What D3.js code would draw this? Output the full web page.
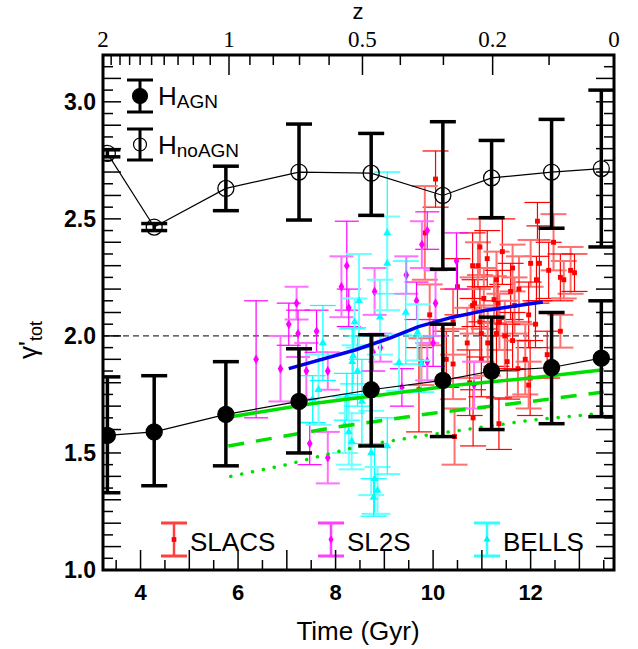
<!DOCTYPE html>
<html>
<head>
<meta charset="utf-8">
<script src="https://cdn.jsdelivr.net/npm/d3@7"></script>
<style>
body { margin: 0; background: #fff; }
text { font-family: "Liberation Sans", Arial, sans-serif; }
</style>
</head>
<body>
<script>
// simulation snapshots (cosmic time in Gyr)
var simTime = [3.32, 4.28, 5.75, 7.25, 8.73, 10.2, 11.2, 12.43, 13.45];

var agnGamma = [1.575, 1.59, 1.665, 1.72, 1.77, 1.81, 1.85, 1.865, 1.905];
var agnLow   = [1.33, 1.36, 1.445, 1.50, 1.53, 1.57, 1.60, 1.625, 1.655];
var agnHigh  = [1.825, 1.83, 1.89, 1.945, 2.005, 2.05, 2.08, 2.10, 2.15];

var noAgnGamma = [2.78, 2.465, 2.63, 2.70, 2.695, 2.60, 2.675, 2.70, 2.715];
var noAgnLow   = [2.765, 2.45, 2.535, 2.495, 2.515, 2.285, 2.505, 2.46, 2.38];
var noAgnHigh  = [2.795, 2.48, 2.725, 2.905, 2.865, 2.915, 2.835, 2.925, 3.05];

var blueLine = [[7.04, 1.86], [8.4, 1.94], [9.1, 1.99], [9.7, 2.04], [10.4, 2.08], [11.1, 2.11], [12.25, 2.145]];
var greenSolid = [[5.85, 1.655], [7.5, 1.71], [9.0, 1.75], [10.5, 1.79], [12.0, 1.82], [13.5, 1.855]];
var greenDashed = [[5.8, 1.53], [8.0, 1.61], [10.0, 1.67], [12.0, 1.72], [13.5, 1.76]];
var greenDotted = [[5.85, 1.40], [7.0, 1.45], [8.5, 1.53], [10.0, 1.58], [12.0, 1.64], [13.5, 1.67]];

// [time, gamma, error]
var slacs = [
  [10.05, 2.67, 0.12], [9.83, 2.44, 0.20], [10.50, 2.21, 0.12], [9.93, 2.09, 0.13],
  [10.27, 1.90, 0.12], [10.41, 1.88, 0.15], [9.71, 1.77, 0.18], [10.44, 1.57, 0.12],
  [10.82, 1.65, 0.12], [10.70, 1.97, 0.15], [10.75, 1.80, 0.14], [10.81, 2.13, 0.12],
  [10.85, 2.14, 0.10], [10.96, 2.38, 0.12], [10.81, 2.30, 0.14], [10.92, 2.30, 0.10],
  [11.11, 2.33, 0.12], [11.04, 2.16, 0.13], [10.96, 2.06, 0.15], [10.99, 2.01, 0.12],
  [10.99, 1.90, 0.16], [10.41, 2.06, 0.14], [12.14, 2.49, 0.08], [12.47, 2.40, 0.12],
  [11.42, 2.36, 0.14], [12.00, 2.31, 0.10], [12.18, 2.31, 0.16], [11.63, 2.29, 0.10],
  [12.37, 2.28, 0.12], [12.82, 2.28, 0.10], [12.61, 2.25, 0.10], [11.30, 2.24, 0.12],
  [12.12, 2.24, 0.10], [11.76, 2.20, 0.14], [11.59, 2.19, 0.12], [11.25, 2.155, 0.10],
  [11.33, 2.14, 0.14], [11.67, 2.13, 0.12], [11.96, 2.09, 0.14], [11.36, 2.06, 0.12],
  [12.10, 2.05, 0.10], [12.61, 2.02, 0.07], [11.30, 2.01, 0.14], [11.47, 2.00, 0.15],
  [11.63, 1.98, 0.12], [11.12, 1.97, 0.14], [12.34, 1.92, 0.10], [11.89, 1.90, 0.15],
  [11.52, 1.89, 0.16], [11.74, 1.86, 0.12], [11.99, 1.82, 0.16], [11.96, 1.79, 0.10],
  [11.35, 1.625, 0.11], [12.68, 2.24, 0.08], [12.90, 2.27, 0.08], [9.76, 1.89, 0.10]
];
var sl2s = [
  [6.37, 1.90, 0.25], [6.87, 1.86, 0.14], [7.04, 2.05, 0.09], [7.20, 2.14, 0.07],
  [7.23, 2.01, 0.10], [7.40, 1.85, 0.12], [7.61, 2.02, 0.09], [7.84, 1.85, 0.08],
  [7.47, 1.54, 0.09], [7.84, 1.48, 0.11], [8.23, 2.30, 0.19], [8.12, 2.21, 0.13],
  [8.27, 2.12, 0.08], [8.80, 2.19, 0.10], [8.77, 1.93, 0.08], [8.92, 1.95, 0.06],
  [9.88, 2.45, 0.08], [9.77, 2.39, 0.10], [10.48, 2.32, 0.12], [9.45, 2.26, 0.08],
  [9.66, 2.15, 0.08], [10.05, 2.14, 0.14], [10.00, 1.97, 0.10], [9.88, 1.89, 0.08],
  [9.36, 1.78, 0.08], [10.84, 1.79, 0.10]
];
var bells = [
  [7.53, 1.73, 0.10], [7.65, 1.77, 0.15], [7.74, 1.97, 0.16], [8.19, 1.62, 0.12],
  [8.23, 1.74, 0.10], [8.27, 1.59, 0.14], [8.34, 1.89, 0.14], [8.39, 2.06, 0.10],
  [8.45, 1.85, 0.15], [8.48, 2.15, 0.20], [8.36, 1.915, 0.12], [8.73, 1.50, 0.18],
  [8.80, 1.39, 0.15], [8.86, 1.34, 0.10], [8.78, 1.31, 0.08], [8.91, 2.08, 0.16],
  [9.06, 2.44, 0.26], [9.06, 2.31, 0.20], [9.06, 1.53, 0.12], [9.30, 1.886, 0.12],
  [9.44, 2.10, 0.22], [9.68, 2.015, 0.12], [9.76, 1.88, 0.12], [8.33, 1.55, 0.12],
  [8.54, 1.72, 0.18]
];

var yTickLabels = ['1.0', '1.5', '2.0', '2.5', '3.0'];
var xTickLabels = [4, 6, 8, 10, 12];
var zMajor = [2, 1, 0.5, 0.2, 0];
var zMinor = [1.9, 1.8, 1.7, 1.6, 1.5, 1.4, 1.3, 1.2, 1.1, 0.9, 0.8, 0.7, 0.6, 0.4, 0.3, 0.1];

var width = 638, height = 649;
var fLeft = 103, fRight = 614, fTop = 55, fBottom = 570;

var x = d3.scaleLinear().domain([3.23, 13.71]).range([fLeft, fRight]);
var y = d3.scaleLinear().domain([1.0, 3.2]).range([fBottom, fTop]);

// age of a flat LCDM universe, used only to place the redshift axis
function age(z) {
    var om = 0.3, ol = 0.7, hubble = 13.97;
    return 2 / (3 * Math.sqrt(ol)) * hubble * Math.asinh(Math.sqrt(ol / om) * Math.pow(1 + z, -1.5));
}
var zx = d3.scaleLinear().domain([age(2), age(0)]).range([fLeft, fRight]);

var svg = d3.select('body').append('svg').attr('width', width).attr('height', height);

svg.append('clipPath').attr('id', 'frame')
    .append('rect').attr('x', fLeft).attr('y', fTop).attr('width', fRight - fLeft).attr('height', fBottom - fTop);

var plot = svg.append('g').attr('clip-path', 'url(#frame)');

plot.append('line')
    .attr('x1', fLeft).attr('x2', fRight).attr('y1', y(2)).attr('y2', y(2))
    .attr('stroke', '#000').attr('stroke-width', 1).attr('stroke-dasharray', '6,4');

var line = d3.line().x(function(d) { return x(d[0]); }).y(function(d) { return y(d[1]); });

function errorBars(data, dark, light, capW, symbol, symSize) {
    var g = plot.append('g');
    data.forEach(function(d, i) {
        var col = i % 2 ? light : dark;
        var sw = i % 2 ? 2 : 1.2;
        var cx = x(d[0]);
        g.append('line').attr('x1', cx).attr('x2', cx).attr('y1', y(d[1] - d[2])).attr('y2', y(d[1] + d[2]))
            .attr('stroke', col).attr('stroke-width', sw);
        [d[1] - d[2], d[1] + d[2]].forEach(function(v) {
            g.append('line').attr('x1', cx - capW / 2).attr('x2', cx + capW / 2).attr('y1', y(v)).attr('y2', y(v))
                .attr('stroke', col).attr('stroke-width', sw);
        });
    });
    g.selectAll('path.sym').data(data).enter().append('path')
        .attr('d', d3.symbol().type(symbol).size(symSize))
        .attr('transform', function(d) { return 'translate(' + x(d[0]) + ',' + y(d[1]) + ')'; })
        .attr('fill', dark);
}

errorBars(slacs, '#ff0000', '#ff7070', 26, d3.symbolSquare, 24);
errorBars(sl2s, '#ff00ff', '#ff70ff', 24, d3.symbolDiamond, 28);
errorBars(bells, '#00ffff', '#70ffff', 26, d3.symbolTriangle, 28);

plot.append('path').datum(greenSolid).attr('d', line)
    .attr('fill', 'none').attr('stroke', '#00e000').attr('stroke-width', 3.5);
plot.append('path').datum(greenDashed).attr('d', line)
    .attr('fill', 'none').attr('stroke', '#00e000').attr('stroke-width', 3.5).attr('stroke-dasharray', '16,12');
plot.append('path').datum(greenDotted).attr('d', line)
    .attr('fill', 'none').attr('stroke', '#00e000').attr('stroke-width', 3.5)
    .attr('stroke-dasharray', '0.1,11').attr('stroke-linecap', 'round');

plot.append('path').datum(blueLine).attr('d', line)
    .attr('fill', 'none').attr('stroke', '#0000ee').attr('stroke-width', 3.5);

function simSeries(gamma, low, high, filled) {
    var pts = simTime.map(function(t, i) { return [t, gamma[i]]; });
    plot.append('path').datum(pts).attr('d', line)
        .attr('fill', 'none').attr('stroke', '#000').attr('stroke-width', 1.2);
    var g = plot.append('g');
    simTime.forEach(function(t, i) {
        var cx = x(t);
        g.append('line').attr('x1', cx).attr('x2', cx).attr('y1', y(low[i])).attr('y2', y(high[i]))
            .attr('stroke', '#000').attr('stroke-width', 3.5);
        [low[i], high[i]].forEach(function(v) {
            g.append('line').attr('x1', cx - 13).attr('x2', cx + 13).attr('y1', y(v)).attr('y2', y(v))
                .attr('stroke', '#000').attr('stroke-width', 3.5);
        });
    });
    g.selectAll('circle').data(pts).enter().append('circle')
        .attr('cx', function(d) { return x(d[0]); })
        .attr('cy', function(d) { return y(d[1]); })
        .attr('r', 8)
        .attr('fill', filled ? '#000' : 'none')
        .attr('stroke', '#000').attr('stroke-width', 1.3);
}
simSeries(noAgnGamma, noAgnLow, noAgnHigh, false);
simSeries(agnGamma, agnLow, agnHigh, true);

// legend, top left
var simLegend = [{ sub: 'AGN', filled: true, y0: 80, y1: 112 }, { sub: 'noAGN', filled: false, y0: 129, y1: 160 }];
simLegend.forEach(function(d) {
    var g = svg.append('g');
    var mid = (d.y0 + d.y1) / 2;
    g.append('line').attr('x1', 140).attr('x2', 140).attr('y1', d.y0).attr('y2', d.y1).attr('stroke', '#000').attr('stroke-width', 3);
    [d.y0, d.y1].forEach(function(v) {
        g.append('line').attr('x1', 127).attr('x2', 153).attr('y1', v).attr('y2', v).attr('stroke', '#000').attr('stroke-width', 3);
    });
    g.append('circle').attr('cx', 140).attr('cy', mid).attr('r', d.filled ? 7.5 : 6.5)
        .attr('fill', d.filled ? '#000' : 'none').attr('stroke', '#000').attr('stroke-width', 1.2);
    var t = g.append('text').attr('x', 158).attr('y', mid + 9).attr('font-size', 26).text('H');
    t.append('tspan').attr('dy', 3).attr('font-size', 19).text(d.sub);
});

// legend, bottom
var obsLegend = [
    { name: 'SLACS', dark: '#ff0000', light: '#ff4040', cx: 174, symbol: d3.symbolSquare },
    { name: 'SL2S', dark: '#ff00ff', light: '#ff40ff', cx: 331, symbol: d3.symbolDiamond },
    { name: 'BELLS', dark: '#00f0f0', light: '#30ffff', cx: 487, symbol: d3.symbolTriangle }
];
obsLegend.forEach(function(d) {
    var g = svg.append('g');
    g.append('line').attr('x1', d.cx).attr('x2', d.cx).attr('y1', 523).attr('y2', 556).attr('stroke', d.light).attr('stroke-width', 2.5);
    [523, 556].forEach(function(v) {
        g.append('line').attr('x1', d.cx - 13).attr('x2', d.cx + 13).attr('y1', v).attr('y2', v).attr('stroke', d.light).attr('stroke-width', 3);
    });
    g.append('path').attr('d', d3.symbol().type(d.symbol).size(22)).attr('transform', 'translate(' + d.cx + ',539.5)').attr('fill', d.dark);
    g.append('text').attr('x', d.cx + 16).attr('y', 550.5).attr('font-size', 26).text(d.name);
});

// frame and ticks
var axes = svg.append('g').attr('stroke', '#000');
d3.range(1.0, 3.2001, 0.05).forEach(function(v, i) {
    var len = i % 2 ? 10 : 18;
    axes.append('line').attr('x1', fLeft).attr('x2', fLeft + len).attr('y1', y(v)).attr('y2', y(v)).attr('stroke-width', 1.5);
    axes.append('line').attr('x1', fRight).attr('x2', fRight - len).attr('y1', y(v)).attr('y2', y(v)).attr('stroke-width', 1.5);
});
d3.range(3.5, 13.71, 0.5).forEach(function(v) {
    var len = v % 1 === 0 ? 20 : 10;
    axes.append('line').attr('x1', x(v)).attr('x2', x(v)).attr('y1', fBottom).attr('y2', fBottom - len).attr('stroke-width', 1.5);
});
zMajor.forEach(function(z) {
    axes.append('line').attr('x1', zx(age(z))).attr('x2', zx(age(z))).attr('y1', fTop).attr('y2', fTop + 20).attr('stroke-width', 1.5);
});
zMinor.forEach(function(z) {
    axes.append('line').attr('x1', zx(age(z))).attr('x2', zx(age(z))).attr('y1', fTop).attr('y2', fTop + 10).attr('stroke-width', 1.5);
});
axes.append('rect').attr('x', fLeft).attr('y', fTop).attr('width', fRight - fLeft).attr('height', fBottom - fTop)
    .attr('fill', 'none').attr('stroke-width', 3);

svg.selectAll('text.ylab').data(yTickLabels).enter().append('text')
    .attr('x', 96).attr('y', function(d) { return y(+d) + 8; })
    .attr('text-anchor', 'end').attr('font-size', 23).attr('font-weight', 'bold')
    .text(function(d) { return d; });

svg.selectAll('text.xlab').data(xTickLabels).enter().append('text')
    .attr('x', function(d) { return x(d); }).attr('y', 600)
    .attr('text-anchor', 'middle').attr('font-size', 22).attr('font-weight', 'bold')
    .text(function(d) { return d; });

svg.selectAll('text.zlab').data(zMajor).enter().append('text')
    .attr('x', function(d) { return zx(age(d)); }).attr('y', 47)
    .attr('text-anchor', 'middle').attr('font-size', 23)
    .style('font-family', '"Liberation Serif", "Times New Roman", serif')
    .text(function(d) { return d; });

svg.append('text').attr('x', 358).attr('y', 19).attr('text-anchor', 'middle').attr('font-size', 22).text('z');
svg.append('text').attr('x', 358).attr('y', 640).attr('text-anchor', 'middle').attr('font-size', 26).text('Time (Gyr)');

var ylab = svg.append('text').attr('transform', 'translate(37,340) rotate(-90)').attr('text-anchor', 'middle').attr('font-size', 26);
ylab.append('tspan').text('γ\'');
ylab.append('tspan').attr('dy', 5).attr('font-size', 18).text('tot');
</script>
</body>
</html>
